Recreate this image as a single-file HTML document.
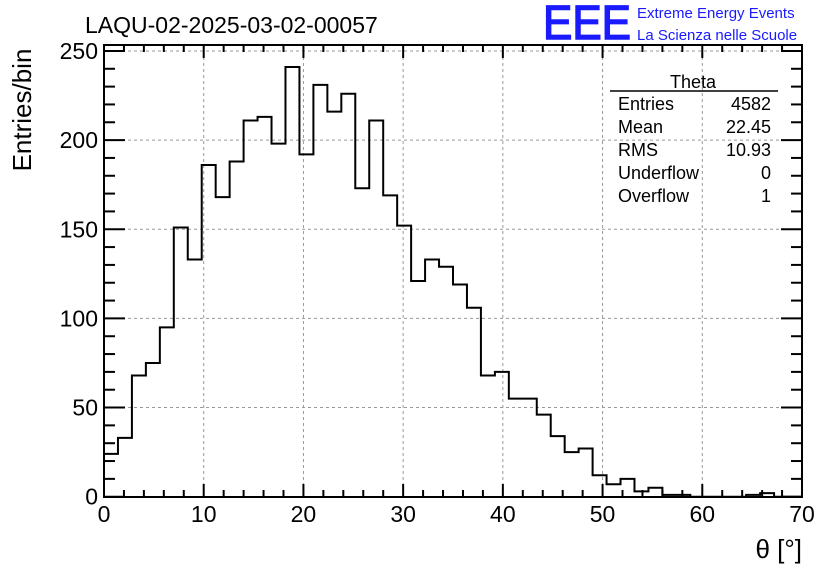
<!DOCTYPE html>
<html><head><meta charset="utf-8"><style>
body{margin:0;background:#fff;}
svg{display:block;font-family:"Liberation Sans",sans-serif;}
</style></head><body>
<svg id="c" width="836" height="572" viewBox="0 0 836 572">
<rect width="836" height="572" fill="#fff"/>
<g id="grid"></g>
<g id="ticks"></g>
<path id="hist" fill="none" stroke="#000" stroke-width="2"/>
<rect x="104" y="45" width="698" height="452" fill="none" stroke="#000" stroke-width="2"/>
<g id="labels" font-size="23"></g>
<text x="85" y="33" font-size="23">LAQU-02-2025-03-02-00057</text>
<text x="543" y="39" font-size="48" fill="#1a1aff" stroke="#1a1aff" stroke-width="1.5" textLength="88" lengthAdjust="spacingAndGlyphs">EEE</text>
<text x="637" y="18" font-size="15" fill="#1a1aff">Extreme Energy Events</text>
<text x="637" y="40" font-size="15" fill="#1a1aff">La Scienza nelle Scuole</text>
<text transform="translate(31,110) rotate(-90)" text-anchor="middle" font-size="26">Entries/bin</text>
<text x="802" y="558" text-anchor="end" font-size="26">θ [°]</text>
<g font-size="18">
<text x="693" y="88" text-anchor="middle">Theta</text>
<line x1="610" y1="91" x2="778" y2="91" stroke="#000" stroke-width="1.5"/>
<text x="618" y="110">Entries</text><text x="771" y="110" text-anchor="end">4582</text>
<text x="618" y="133">Mean</text><text x="771" y="133" text-anchor="end">22.45</text>
<text x="618" y="156">RMS</text><text x="771" y="156" text-anchor="end">10.93</text>
<text x="618" y="179">Underflow</text><text x="771" y="179" text-anchor="end">0</text>
<text x="618" y="202">Overflow</text><text x="771" y="202" text-anchor="end">1</text>
</g>
</svg>
<script>
const binCounts=[24,33,68,75,95,151,133,186,168,188,211,213,198,241,192,231,216,226,173,211,169,152,121,133,129,119,106,68,70,55,55,46,34,25,27,12,7,10,3,5,1,1,0,0,0,0,1,2,0,0];
const xTicks=[0,10,20,30,40,50,60,70];
const yTicks=[0,50,100,150,200,250];
const xMin=0,xMax=70,binWidth=1.4;
const L=104,R=802,T=45,B=497;
const X=v=>L+(v-xMin)/(xMax-xMin)*(R-L);
const Y=v=>496.7-v*1.783;
const ns="http://www.w3.org/2000/svg";
function mk(t,a,p){const e=document.createElementNS(ns,t);for(const k in a)e.setAttribute(k,a[k]);p.appendChild(e);return e;}
let d="M"+X(0)+","+Y(0);
binCounts.forEach((c,i)=>{d+=" L"+X(i*binWidth)+","+Y(c)+" L"+X((i+1)*binWidth)+","+Y(c);});
d+=" L"+X(binCounts.length*binWidth)+","+Y(0);
document.getElementById('hist').setAttribute('d',d);
const g=document.getElementById('grid'),tk=document.getElementById('ticks'),lb=document.getElementById('labels');
xTicks.forEach(v=>{const x=X(v);
 if(v>xMin&&v<xMax){const l=mk('line',{x1:x,x2:x,y1:T,y2:B,stroke:'#999','stroke-dasharray':'3,3'},g);
 
 }
 const t=mk('text',{x:x,y:522,'text-anchor':'middle'},lb);t.textContent=v;
 
 
});
yTicks.forEach(v=>{const y=Y(v);
 if(v>0){const l=mk('line',{x1:L,x2:R,y1:y,y2:y,stroke:'#999','stroke-dasharray':'3,3'},g);
 
 }
 const t=mk('text',{x:98,y:y+8,'text-anchor':'end'},lb);t.textContent=v;
 
 
});
for(let v=0;v<=70;v+=2){const x=X(v),len=v%10===0?13:7;
 mk('line',{x1:x,x2:x,y1:B,y2:B-len,stroke:'#000','stroke-width':2},tk);
 mk('line',{x1:x,x2:x,y1:T,y2:T+len,stroke:'#000','stroke-width':2},tk);}
for(let v=0;v<=250;v+=10){const y=Y(v),len=v%50===0?21:11;
 mk('line',{x1:L,x2:L+len,y1:y,y2:y,stroke:'#000','stroke-width':2},tk);
 mk('line',{x1:R,x2:R-len,y1:y,y2:y,stroke:'#000','stroke-width':2},tk);}
</script>
</body></html>
